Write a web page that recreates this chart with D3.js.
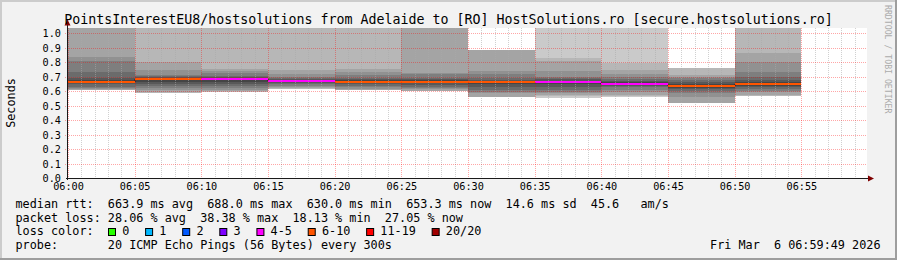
<!DOCTYPE html>
<html>
<head>
<meta charset="utf-8">
<script src="https://cdn.jsdelivr.net/npm/d3@7"></script>
<style>
  body { margin: 0; background: #f2f2f2; }
  svg { display: block; font-family: "DejaVu Sans Mono", monospace; }
</style>
</head>
<body>
<script>
// each value covers the 5 minutes ending at its time (rrd step 300s)
const segmentEnds = ["06:00", "06:05", "06:10", "06:15", "06:20", "06:25",
  "06:30", "06:35", "06:40", "06:45", "06:50", "06:55"];
const medians = [0.66, 0.662, 0.686, 0.685, 0.669, 0.664, 0.665, 0.662, 0.665, 0.65, 0.634, 0.65];
const lostPings = [6, 7, 6, 5, 5, 6, 7, 7, 4, 4, 6, 6];

// 20 sorted ping slots per step (seconds), null = lost
const pings = [
  [null, null, null, 0.56, 0.58, 0.6, 0.62, 0.635, 0.648, 0.655, 0.665, 0.672, 0.68, 0.69, 0.71, 0.735, 0.76, null, null, null],
  [null, null, null, 0.607, 0.612, 0.62, 0.63, 0.645, 0.652, 0.658, 0.668, 0.675, 0.69, 0.733, 0.807, 0.837, 1.2, null, null, null],
  [null, null, 0.588, 0.595, 0.605, 0.618, 0.632, 0.646, 0.66, 0.675, 0.69, 0.693, 0.697, 0.702, 0.71, 0.745, 0.8, 1.2, null, null],
  [null, null, 0.595, 0.602, 0.61, 0.618, 0.632, 0.645, 0.665, 0.678, 0.687, 0.69, 0.695, 0.705, 0.725, 0.74, 0.752, 1.2, null, null],
  [null, null, 0.615, 0.62, 0.628, 0.636, 0.645, 0.652, 0.66, 0.665, 0.672, 0.676, 0.682, 0.69, 0.7, 0.715, 0.745, 1.2, null, null],
  [null, null, 0.605, 0.608, 0.615, 0.625, 0.635, 0.645, 0.652, 0.658, 0.668, 0.675, 0.68, 0.687, 0.71, 0.729, 0.752, 1.2, null, null],
  [null, null, null, 0.602, 0.614, 0.622, 0.63, 0.642, 0.652, 0.66, 0.668, 0.673, 0.68, 0.687, 0.715, 0.722, 1.2, null, null, null],
  [null, null, null, 0.561, 0.584, 0.596, 0.607, 0.628, 0.645, 0.655, 0.666, 0.672, 0.678, 0.687, 0.72, 0.738, 0.883, null, null, null],
  [null, 0.554, 0.565, 0.572, 0.585, 0.595, 0.61, 0.63, 0.648, 0.658, 0.668, 0.672, 0.68, 0.69, 0.699, 0.738, 0.807, 0.83, 1.2, null],
  [null, 0.561, 0.568, 0.575, 0.59, 0.61, 0.625, 0.635, 0.642, 0.648, 0.655, 0.662, 0.672, 0.685, 0.7, 0.715, 0.745, 0.791, 1.2, null],
  [null, null, 0.515, 0.518, 0.56, 0.585, 0.6, 0.612, 0.622, 0.628, 0.64, 0.648, 0.66, 0.675, 0.69, 0.7, 0.71, 0.761, null, null],
  [null, null, 0.566, 0.57, 0.59, 0.6, 0.615, 0.628, 0.636, 0.642, 0.655, 0.662, 0.675, 0.7, 0.733, 0.8, 0.86, 1.2, null, null]
];

const lossLabels = ["0", "1", "2", "3", "4-5", "6-10", "11-19", "20/20"];
const lossFrom = [0, 1, 2, 3, 4, 6, 11, 20];
const lossColors = ["#26ff00", "#00b8ff", "#0059ff", "#7e00ff", "#ff00ff", "#ff5500", "#ff0000", "#a10000"];

const timeLabels = ["06:00", "06:05", "06:10", "06:15", "06:20", "06:25",
  "06:30", "06:35", "06:40", "06:45", "06:50", "06:55"];
const yTicks = [0.0, 0.1, 0.2, 0.3, 0.4, 0.5, 0.6, 0.7, 0.8, 0.9, 1.0];

const title = "PointsInterestEU8/hostsolutions from Adelaide to [RO] HostSolutions.ro [secure.hostsolutions.ro]";
const legendLines = [
  "median rtt:  663.9 ms avg  688.0 ms max  630.0 ms min  653.3 ms now  14.6 ms sd  45.6   am/s",
  "packet loss: 28.06 % avg  38.38 % max  18.13 % min  27.05 % now",
  "loss color:",
  "probe:       20 ICMP Echo Pings (56 Bytes) every 300s"
];
const stamp = "Fri Mar  6 06:59:49 2026";

const W = 897, H = 260;
const plot = { left: 67, top: 28, right: 867, bottom: 178 };

const parse = d3.timeParse("%H:%M");
const x = d3.scaleTime().domain([parse("06:00"), parse("07:00")]).range([68, 868]);
const y = d3.scaleLinear().domain([0, 1]).range([178, 33]);
const topVal = y.invert(plot.top);

const svg = d3.select("body").append("svg").attr("width", W).attr("height", H);

// frame
svg.append("rect").attr("width", W).attr("height", H).attr("fill", "#f2f2f2");
svg.append("path").attr("d", `M0,0H${W}V2H2V${H}H0Z`).attr("fill", "#cccccc");
svg.append("path").attr("d", `M${W},${H}H0V${H - 2}H${W - 2}V0H${W}Z`).attr("fill", "#9e9e9e");

svg.append("rect")
  .attr("x", plot.left).attr("y", plot.top)
  .attr("width", plot.right - plot.left).attr("height", plot.bottom - plot.top)
  .attr("fill", "#ffffff");

svg.append("clipPath").attr("id", "clip").append("rect")
  .attr("x", plot.left).attr("y", plot.top)
  .attr("width", plot.right - plot.left).attr("height", plot.bottom - plot.top);

const canvas = svg.append("g").attr("clip-path", "url(#clip)");

// smoke: pair k joins the k-th fastest and k-th slowest ping
const smoke = [];
pings.forEach((p, i) => {
  const t1 = parse(segmentEnds[i]);
  const t0 = d3.timeMinute.offset(t1, -5);
  for (let k = 1; k <= 10; k++) {
    const lo = p[k - 1], hi = p[20 - k];
    if (lo == null || hi == null) continue;
    smoke.push({ t0, t1, lo, hi: Math.min(hi, topVal), k });
  }
});

const gray = (k) => {
  const c = Math.round(190 / 10 * (10 - k)) + 50;
  return d3.rgb(c, c, c).formatHex();
};

canvas.append("g")
  .attr("shape-rendering", "crispEdges")
  .selectAll("rect")
  .data(smoke)
  .join("rect")
  .attr("x", (d) => Math.round(x(d.t0)))
  .attr("width", (d) => Math.round(x(d.t1)) - Math.round(x(d.t0)))
  .attr("y", (d) => Math.round(y(d.hi)))
  .attr("height", (d) => Math.round(y(d.lo)) - Math.round(y(d.hi)))
  .attr("fill", (d) => gray(d.k));

// grid
const minutes = d3.timeMinute.range(parse("06:00"), parse("07:00"));
const grid = svg.append("g").attr("shape-rendering", "crispEdges");
grid.selectAll(".minor")
  .data(minutes.filter((d) => d.getMinutes() % 5 !== 0))
  .join("line")
  .attr("x1", (d) => Math.round(x(d)) + 0.5).attr("x2", (d) => Math.round(x(d)) + 0.5)
  .attr("y1", plot.top).attr("y2", plot.bottom)
  .attr("stroke", "rgba(170,170,170,0.55)")
  .attr("stroke-dasharray", "1,1");
grid.selectAll(".major")
  .data(timeLabels.map(parse))
  .join("line")
  .attr("x1", (d) => Math.round(x(d)) + 0.5).attr("x2", (d) => Math.round(x(d)) + 0.5)
  .attr("y1", plot.top).attr("y2", plot.bottom + 2)
  .attr("stroke", "rgba(255,0,0,0.35)")
  .attr("stroke-dasharray", "1,1");
grid.selectAll(".hgrid")
  .data(yTicks.slice(1))
  .join("line")
  .attr("x1", plot.left - 2).attr("x2", plot.right)
  .attr("y1", (d) => Math.round(y(d)) + 0.5).attr("y2", (d) => Math.round(y(d)) + 0.5)
  .attr("stroke", "rgba(255,0,0,0.35)")
  .attr("stroke-dasharray", "1,1");

// median
const steps = [{ t: d3.timeMinute.offset(parse(segmentEnds[0]), -5), v: medians[0] }]
  .concat(segmentEnds.map((s, i) => ({ t: parse(s), v: medians[i] })));

const stepLine = d3.line()
  .curve(d3.curveStepBefore)
  .x((d) => Math.round(x(d.t)))
  .y((d) => Math.round(y(d.v)));

canvas.append("path")
  .datum(steps)
  .attr("fill", "none")
  .attr("stroke", "#202020")
  .attr("stroke-width", 1)
  .attr("d", stepLine);

const lossIndex = (n) => d3.bisectRight(lossFrom, n) - 1;

canvas.append("g")
  .selectAll("line")
  .data(segmentEnds)
  .join("line")
  .attr("x1", (d) => Math.round(x(d3.timeMinute.offset(parse(d), -5))))
  .attr("x2", (d) => Math.round(x(parse(d))))
  .attr("y1", (d, i) => Math.round(y(medians[i])))
  .attr("y2", (d, i) => Math.round(y(medians[i])))
  .attr("stroke", (d, i) => lossColors[lossIndex(lostPings[i])])
  .attr("stroke-width", 2);

// axes
const xAxis = d3.axisBottom(x)
  .tickValues(timeLabels.map(parse))
  .tickFormat(d3.timeFormat("%H:%M"))
  .tickSize(0);
const xGroup = svg.append("g")
  .attr("transform", `translate(0, ${plot.bottom})`)
  .call(xAxis)
  .call((g) => g.select(".domain").remove());
xGroup.attr("font-family", "DejaVu Sans Mono").attr("font-size", 10.2);
xGroup.selectAll("text").attr("y", 12).attr("dy", null).attr("fill", "#000");

const yAxis = d3.axisLeft(y)
  .tickValues(yTicks)
  .tickFormat(d3.format(".1f"))
  .tickSize(0);
const yGroup = svg.append("g")
  .attr("transform", `translate(${plot.left}, 0)`)
  .call(yAxis)
  .call((g) => g.select(".domain").remove());
yGroup.attr("font-family", "DejaVu Sans Mono").attr("font-size", 10.2);
yGroup.selectAll("text").attr("x", -6).attr("dy", null).attr("y", 3.8).attr("fill", "#000");

svg.append("line")
  .attr("x1", plot.left - 1).attr("x2", 868)
  .attr("y1", plot.bottom + 0.5).attr("y2", plot.bottom + 0.5)
  .attr("stroke", "#1a1a1a");
svg.append("line")
  .attr("x1", plot.left + 0.5).attr("x2", plot.left + 0.5)
  .attr("y1", plot.bottom + 2).attr("y2", 25)
  .attr("stroke", "#1a1a1a");
svg.append("path")
  .attr("d", `M868,175.5L874,178.5L868,181.5Z`)
  .attr("fill", "#7f0000");
svg.append("path")
  .attr("d", `M64.5,25.5L67.5,19.5L70.5,25.5Z`)
  .attr("fill", "#7f0000");

// texts
svg.append("text")
  .attr("x", W / 2)
  .attr("y", 23.5)
  .attr("text-anchor", "middle")
  .attr("font-size", 13.3)
  .style("white-space", "pre")
  .text(title);

svg.append("text")
  .attr("transform", "translate(14.5, 103) rotate(-90)")
  .attr("text-anchor", "middle")
  .attr("font-size", 11.8)
  .text("Seconds");

svg.append("text")
  .attr("transform", "translate(884.5, 5) rotate(90)")
  .attr("font-size", 8.2)
  .attr("fill", "#ababab")
  .style("white-space", "pre")
  .text("RRDTOOL / TOBI OETIKER");

const legend = svg.append("g").attr("font-size", 11.8);
legend.selectAll("text")
  .data(legendLines)
  .join("text")
  .attr("x", 15.5)
  .attr("y", (d, i) => 208.3 + i * 13.5)
  .style("white-space", "pre")
  .text((d) => d);

legend.append("text")
  .attr("x", 880.5)
  .attr("y", 208.3 + 3 * 13.5)
  .attr("text-anchor", "end")
  .style("white-space", "pre")
  .text(stamp);

// loss colour swatches
const charW = 11.8 * 0.602;
let bx = 108.5;
const swatches = lossLabels.map((label, i) => {
  const item = { label, color: lossColors[i], x: bx };
  bx += 13.7 + label.length * charW + 16.3;
  return item;
});
const sw = legend.append("g").selectAll("g").data(swatches).join("g");
sw.append("rect")
  .attr("x", (d) => d.x).attr("y", 228.5)
  .attr("width", 7).attr("height", 7)
  .attr("fill", (d) => d.color)
  .attr("stroke", "#000");
sw.append("text")
  .attr("x", (d) => d.x + 13.7)
  .attr("y", 208.3 + 2 * 13.5)
  .text((d) => d.label);
</script>
</body>
</html>
